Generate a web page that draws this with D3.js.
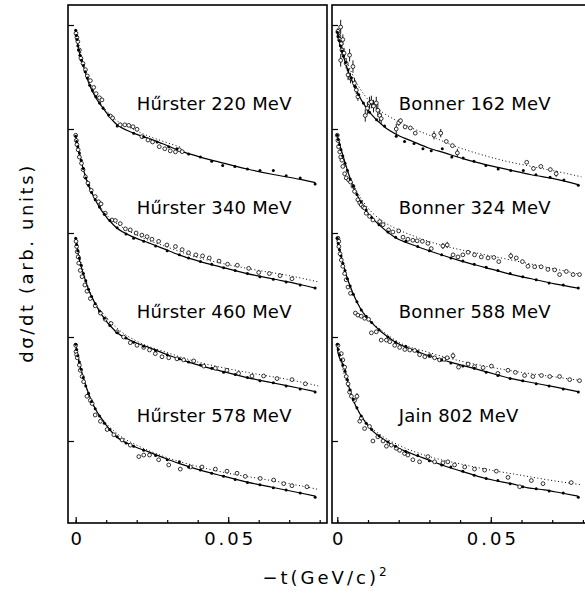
<!DOCTYPE html>
<html>
<head>
<meta charset="utf-8">
<script src="https://cdn.jsdelivr.net/npm/d3@7"></script>
<style>
  body { margin: 0; background: #fff; }
  text { font-family: "DejaVu Sans", sans-serif; fill: #000; }
</style>
</head>
<body>
<script>
// values are [-t, log10 offset inside one decade]; open points carry an error as 3rd item

// Hűrster 220 MeV
const solidL1 = [[0,.94],[.001,.76],[.0026,.60],[.0043,.44],[.0064,.31],[.0086,.215],[.013,.055],[.019,-.04],[.0239,-.09],[.0283,-.14],[.0338,-.205],[.0409,-.27],[.048,-.325],[.0562,-.385],[.0644,-.435],[.0737,-.485],[.0786,-.515]];
const fitL1 = [[0,.94],[.0021,.68],[.0043,.47],[.0064,.33],[.0097,.19],[.013,.09],[.0174,.02],[.0228,-.055],[.0283,-.115],[.0349,-.18]];
const calcL1 = [[0,.95],[.0002,.9],[.0004,.86],[.0007,.8],[.001,.76],[.0014,.71],[.0019,.66],[.0025,.61],[.0031,.55],[.0038,.49],[.0046,.42],[.0055,.37],[.0066,.31],[.0078,.25],[.009,.2],[.0108,.135],[.0136,.03],[.019,-.04],[.0223,-.075],[.0267,-.125],[.0305,-.17],[.0332,-.19],[.037,-.24],[.0409,-.27],[.0446,-.31],[.0482,-.35],[.0522,-.36],[.0563,-.385],[.0604,-.4],[.0648,-.4],[.069,-.45],[.0736,-.47],[.0785,-.53]];
const dataL1 = [[.0001,.92],[.0004,.88],[.0007,.84],[.0012,.76],[.0017,.68],[.0024,.63],[.0032,.57],[.0038,.51],[.0048,.465],[.0059,.4],[.0067,.34],[.0078,.3],[.0086,.28],[.0114,.125],[.0121,.106],[.0146,.04],[.0161,.04],[.0174,.035],[.0188,.022],[.0201,-.003],[.0217,-.074],[.0237,-.106],[.0252,-.125],[.0274,-.17],[.0292,-.19],[.031,-.21],[.0327,-.22],[.034,-.2],[.0349,-.218]];

// Hűrster 340 MeV
const solidL2 = [[0,.93],[.001,.79],[.0026,.6],[.0043,.45],[.0064,.32],[.0086,.21],[.013,.06],[.019,-.04],[.0239,-.095],[.0283,-.145],[.0338,-.21],[.0409,-.275],[.048,-.33],[.0562,-.39],[.0644,-.44],[.0737,-.495],[.0786,-.53]];
const fitL2 = [[0,.93],[.003,.58],[.006,.35],[.01,.18],[.015,.06],[.02,-.02],[.03,-.135],[.04,-.235],[.05,-.305],[.06,-.36],[.07,-.41],[.0795,-.47]];
const calcL2 = [[0,.93],[.0003,.88],[.0007,.83],[.0012,.77],[.0018,.7],[.0025,.62],[.0033,.53],[.0042,.46],[.0052,.39],[.0064,.32],[.0078,.25],[.0094,.18],[.0112,.12],[.0136,.05],[.0165,-.01],[.019,-.05],[.0223,-.08],[.0262,-.125],[.03,-.17],[.034,-.21],[.037,-.24],[.0409,-.275],[.0446,-.3],[.0485,-.335],[.0523,-.36],[.0563,-.39],[.0604,-.42],[.0648,-.445],[.069,-.47],[.0736,-.5],[.0785,-.53]];
const dataL2 = [[0,.94],[.0002,.89],[.0004,.85],[.0008,.8],[.0012,.73],[.0019,.67],[.0024,.61],[.0032,.54],[.004,.48],[.0051,.41],[.0064,.35],[.0075,.3],[.0083,.28],[.0097,.19],[.0119,.125],[.013,.12],[.0146,.09],[.0163,.04],[.0179,.03],[.0198,0],[.0217,-.02],[.0234,-.035],[.025,-.06],[.0272,-.08],[.0299,-.115],[.0327,-.13],[.0349,-.16],[.037,-.19],[.0394,-.21],[.0416,-.22],[.0438,-.24],[.047,-.27],[.0498,-.3],[.053,-.31],[.0567,-.34],[.06,-.38],[.0635,-.39],[.067,-.41],[.0709,-.44]];

// Hűrster 460 MeV
const solidL3 = [[0,.95],[.001,.77],[.0026,.6],[.0043,.45],[.0064,.32],[.0086,.21],[.013,.055],[.019,-.045],[.0239,-.1],[.0283,-.15],[.0338,-.21],[.0409,-.275],[.048,-.33],[.0562,-.39],[.0644,-.44],[.0737,-.495],[.0786,-.525]];
const fitL3 = [[0,.95],[.003,.58],[.006,.35],[.01,.19],[.015,.05],[.02,-.04],[.03,-.15],[.04,-.24],[.05,-.305],[.06,-.36],[.07,-.41],[.0795,-.47]];
const calcL3 = [[0,.95],[.0003,.89],[.0007,.83],[.0012,.76],[.0018,.69],[.0025,.61],[.0033,.54],[.0042,.46],[.0052,.39],[.0064,.32],[.0078,.25],[.0094,.18],[.0112,.11],[.0136,.04],[.0165,-.01],[.019,-.05],[.0223,-.09],[.0262,-.13],[.03,-.17],[.034,-.21],[.037,-.24],[.0409,-.27],[.0446,-.3],[.0485,-.34],[.0523,-.36],[.0563,-.39],[.0604,-.42],[.0648,-.44],[.069,-.47],[.0736,-.5],[.0785,-.53]];
const dataL3 = [[.0001,.92],[.0003,.87],[.0005,.82],[.0008,.77],[.001,.71],[.0015,.64],[.0021,.58],[.003,.5],[.0037,.44],[.0048,.37],[.0064,.3],[.0081,.23],[.0097,.17],[.0116,.13],[.0136,.05],[.0157,0],[.0179,-.055],[.0201,-.08],[.0223,-.1],[.0242,-.125],[.0261,-.16],[.0283,-.19],[.0305,-.2],[.0332,-.21],[.0354,-.22],[.0387,-.23],[.042,-.28],[.0458,-.3],[.0496,-.32],[.0534,-.35],[.0578,-.375],[.0616,-.375],[.066,-.4],[.0709,-.41],[.0753,-.45]];

// Hűrster 578 MeV
const solidL4 = [[0,.92],[.001,.77],[.0026,.6],[.0043,.45],[.0064,.31],[.0086,.21],[.013,.05],[.019,-.05],[.0239,-.105],[.0283,-.155],[.0338,-.215],[.0409,-.28],[.048,-.335],[.0562,-.395],[.0644,-.445],[.0737,-.5],[.0786,-.53]];
const fitL4 = [[0,.92],[.003,.56],[.006,.33],[.01,.17],[.015,.04],[.02,-.04],[.03,-.16],[.04,-.245],[.05,-.31],[.06,-.36],[.07,-.41],[.0795,-.465]];
const calcL4 = [[0,.93],[.0003,.88],[.0007,.82],[.0012,.76],[.0018,.69],[.0025,.61],[.0033,.53],[.0042,.46],[.0052,.38],[.0064,.31],[.0078,.24],[.0094,.17],[.0112,.11],[.0136,.04],[.0165,-.02],[.019,-.05],[.0223,-.09],[.0262,-.14],[.03,-.18],[.034,-.2],[.037,-.25],[.0409,-.28],[.0446,-.31],[.0485,-.34],[.0523,-.37],[.0563,-.4],[.0604,-.42],[.0648,-.45],[.069,-.47],[.0736,-.5],[.0785,-.54]];
const dataL4 = [[0,.92],[.0001,.86],[.0003,.83],[.0005,.8],[.0012,.73],[.0015,.68],[.0021,.62],[.0026,.57],[.0037,.43],[.0048,.39],[.0054,.36],[.0064,.25],[.0081,.19],[.0103,.11],[.0125,.06],[.0152,.01],[.0179,-.04],[.0207,-.15],[.0223,-.135],[.0242,-.135],[.0272,-.18],[.0305,-.23],[.0343,-.27],[.0376,-.25],[.0414,-.25],[.0458,-.27],[.0496,-.29],[.0529,-.31],[.0556,-.34],[.0605,-.36],[.0649,-.375],[.0682,-.41],[.0709,-.43],[.0758,-.44]];

// Bonner 162 MeV
const solidR1 = [[0,.92],[.0008,.82],[.0024,.66],[.004,.52],[.0056,.41],[.0078,.28],[.0111,.14],[.0154,.02],[.0198,-.06],[.0246,-.12],[.0295,-.18],[.035,-.23],[.0415,-.29],[.048,-.34],[.0556,-.39],[.0632,-.44],[.0708,-.48],[.0784,-.535]];
const fitR1 = [[0,.94],[.003,.66],[.006,.46],[.009,.32],[.013,.2],[.02,.07],[.025,0],[.03,-.06],[.037,-.15],[.045,-.23],[.055,-.31],[.065,-.37],[.075,-.43],[.0795,-.46]];
const calcR1 = [[0,.93],[.0003,.89],[.0006,.85],[.001,.8],[.0015,.75],[.002,.7],[.0027,.64],[.0035,.57],[.0045,.49],[.0057,.41],[.007,.33],[.0085,.25],[.0105,.16],[.0128,.09],[.0154,.03],[.0192,-.07],[.0219,-.12],[.025,-.14],[.0279,-.19],[.0306,-.21],[.0342,-.19],[.0373,-.27],[.041,-.28],[.0445,-.31],[.0484,-.35],[.0524,-.385],[.0565,-.4],[.0606,-.4],[.0647,-.44],[.0693,-.465],[.0738,-.49],[.0785,-.54]];
const dataR1 = [[.0002,.94,.03],[.0005,.89,.04],[.0008,.86,.05],[.0011,.98,.07],[.0013,.82,.05],[.0015,.76,.05],[.0018,.86,.05],[.0011,.66,.06],[.0022,.73,.05],[.0029,.63,.05],[.004,.71,.06],[.0035,.52,.05],[.0043,.49,.05],[.0051,.6,.06],[.0056,.44,.05],[.0062,.375,.04],[.0067,.31,.04],[.0091,.13,.06],[.0098,.2,.06],[.0105,.25,.06],[.0111,.26,.06],[.0118,.22,.06],[.0127,.25,.06],[.0132,.18,.06],[.0138,.13,.06],[.0143,.1,.05],[.0192,0,.05],[.02,.06,.03],[.0206,.08,.02],[.0221,.02],[.0238,.01],[.0254,-.04],[.0315,-.06,.04],[.0337,-.04,.04],[.0355,-.12],[.0375,-.16],[.0391,-.23,.04],[.0617,-.32],[.0639,-.38,.02],[.0663,-.36],[.0694,-.39],[.0713,-.43,.03]];

// Bonner 324 MeV
const solidR2 = [[0,.93],[.0013,.8],[.0029,.64],[.0051,.45],[.0073,.32],[.01,.19],[.0132,.09],[.0187,-.04],[.0252,-.12],[.0328,-.2],[.0404,-.27],[.048,-.33],[.0556,-.39],[.0632,-.44],[.0708,-.49],[.0784,-.53]];
const fitR2 = [[0,.94],[.003,.62],[.006,.42],[.01,.24],[.015,.11],[.02,.03],[.025,-.03],[.033,-.11],[.04,-.16],[.05,-.22],[.06,-.28],[.07,-.34],[.0795,-.4]];
const calcR2 = [[0,.94],[.0003,.9],[.0007,.85],[.0012,.8],[.0018,.74],[.0025,.67],[.0033,.6],[.0042,.52],[.0052,.45],[.0064,.37],[.0078,.3],[.0094,.22],[.0112,.15],[.0136,.08],[.0165,.01],[.019,-.04],[.0223,-.08],[.0262,-.13],[.03,-.17],[.034,-.21],[.037,-.24],[.0409,-.27],[.0446,-.3],[.0485,-.33],[.0523,-.36],[.0563,-.39],[.0604,-.42],[.0648,-.45],[.069,-.48],[.0736,-.5],[.0785,-.53]];
const dataR2 = [[0,.94],[.0002,.89],[.0004,.83],[.0008,.78],[.0011,.73],[.0015,.7],[.0018,.64],[.0024,.57],[.0029,.53],[.0037,.51],[.0043,.49],[.0051,.45],[.0056,.4],[.0067,.32],[.0073,.29],[.0078,.27],[.0084,.25],[.0089,.24],[.0094,.19],[.0105,.16],[.0116,.125],[.0138,.11],[.0149,.08],[.0167,.03],[.0181,.01],[.02,.02],[.0214,-.04],[.023,-.06],[.0246,-.07],[.026,-.075],[.0277,-.08],[.0295,-.1],[.0306,-.15],[.0344,-.125,.03],[.0358,-.115,.03],[.0377,-.21],[.0393,-.23],[.0409,-.21],[.0426,-.185],[.0447,-.21],[.0469,-.23],[.0491,-.24],[.051,-.235],[.0526,-.275],[.0565,-.22,.03],[.0583,-.24],[.0603,-.275],[.0621,-.32],[.0643,-.325],[.0664,-.325],[.0686,-.35],[.0708,-.355],[.0724,-.4],[.0746,-.37],[.0768,-.4],[.0789,-.4]];

// Bonner 588 MeV
const solidR3 = [[0,.95],[.0013,.77],[.0029,.6],[.0051,.42],[.0078,.26],[.0111,.14],[.0143,.05],[.0187,-.045],[.0252,-.13],[.0317,-.2],[.0404,-.27],[.048,-.33],[.0567,-.4],[.0637,-.44],[.0708,-.48],[.0784,-.525]];
const fitR3 = [[0,.95],[.003,.58],[.006,.36],[.01,.18],[.015,.05],[.02,-.05],[.03,-.15],[.04,-.23],[.05,-.29],[.06,-.34],[.07,-.38],[.0795,-.42]];
const calcR3 = [[0,.95],[.0003,.9],[.0007,.84],[.0012,.78],[.0018,.71],[.0025,.64],[.0033,.56],[.0042,.49],[.0052,.41],[.0064,.34],[.0078,.26],[.0094,.2],[.0112,.14],[.0136,.07],[.0165,0],[.019,-.05],[.0223,-.09],[.0262,-.14],[.03,-.18],[.034,-.22],[.037,-.25],[.0409,-.28],[.0446,-.3],[.0485,-.34],[.0523,-.37],[.0563,-.4],[.0604,-.42],[.0648,-.45],[.069,-.47],[.0736,-.5],[.0785,-.53]];
const dataR3 = [[.0002,.95],[.0005,.92],[.0005,.87],[.0009,.8],[.0013,.74],[.0018,.68],[.0024,.61],[.0029,.55],[.0035,.48],[.0043,.42],[.0059,.23],[.0067,.21],[.0078,.2],[.0089,.18],[.0102,.17],[.0111,.04],[.0127,.05],[.0143,-.03],[.016,-.03],[.0171,-.045],[.0187,-.08],[.0203,-.1],[.022,-.12],[.0236,-.125],[.0252,-.13],[.0268,-.17],[.0285,-.19],[.0301,-.18],[.0317,-.2],[.0333,-.22],[.0347,-.215],[.0358,-.2],[.0377,-.18,.03],[.0395,-.29],[.0426,-.26],[.0447,-.285],[.0475,-.295],[.0502,-.28],[.0523,-.35],[.0556,-.32],[.058,-.34],[.061,-.37],[.0637,-.38],[.0665,-.37],[.0692,-.38],[.0724,-.38],[.0757,-.41],[.0789,-.42]];

// Jain 802 MeV
const solidR4 = [[0,.92],[.0002,.85],[.0024,.7],[.0038,.52],[.0051,.4],[.0078,.24],[.0111,.11],[.0154,.01],[.0187,-.05],[.0241,-.12],[.0295,-.18],[.035,-.24],[.0404,-.29],[.0458,-.34],[.0513,-.38],[.0567,-.41],[.0621,-.45],[.0675,-.47],[.073,-.5],[.0784,-.53]];
const fitR4 = [[0,.92],[.003,.56],[.006,.33],[.01,.16],[.015,.04],[.02,-.04],[.03,-.15],[.04,-.22],[.05,-.28],[.06,-.33],[.07,-.38],[.0795,-.42]];
const calcR4 = [[0,.93],[.0003,.88],[.0007,.83],[.0012,.78],[.0018,.73],[.0025,.67],[.0033,.59],[.0042,.49],[.0052,.4],[.0064,.32],[.0078,.24],[.0094,.17],[.0112,.11],[.0136,.05],[.0165,-.01],[.019,-.05],[.0223,-.1],[.0262,-.14],[.03,-.19],[.034,-.23],[.037,-.25],[.0409,-.29],[.0446,-.33],[.0485,-.36],[.0523,-.38],[.0563,-.41],[.0604,-.44],[.0648,-.46],[.069,-.48],[.0736,-.5],[.0785,-.54]];
const dataR4 = [[.0002,.92],[.0013,.84],[.0018,.78],[.0024,.71],[.0029,.62],[.0035,.55],[.004,.47],[.0046,.43],[.0056,.39,.02],[.0064,.43,.03],[.0073,.19],[.0078,.22],[.0089,.12],[.0105,.14],[.0116,0],[.0132,.04],[.0149,0],[.016,-.05],[.0176,-.04],[.0192,-.07],[.0203,-.09],[.0219,-.12],[.023,-.135],[.0246,-.18],[.0268,-.2],[.0295,-.15],[.0317,-.2],[.0344,-.21],[.036,-.2],[.0382,-.23],[.0415,-.25],[.0447,-.27],[.048,-.28],[.0518,-.29],[.0556,-.35],[.0594,-.44],[.0632,-.38],[.067,-.41],[.0762,-.4]];

const labelsLeft = ['H\u0171rster 220 MeV', 'H\u0171rster 340 MeV', 'H\u0171rster 460 MeV', 'H\u0171rster 578 MeV'];
const labelsRight = ['Bonner 162 MeV', 'Bonner 324 MeV', 'Bonner 588 MeV', 'Jain 802 MeV'];
const decadeOffsets = [3, 2, 1, 0];
const xMinorTicks = [0, .01, .02, .03, .04, .05, .06, .07, .08];
const xMajorTicks = [0, .05];
const xTickLabels = ['0', '0.05'];
const yTicks = [1, 10, 100, 1000, 10000];

const width = 585, height = 593;
const plotTop = 5, plotBottom = 523;

const panels = [
  {x0: 68, x1: 327, range: [75.7, 319.7], labels: labelsLeft,
   sets: [[solidL1, fitL1, calcL1, dataL1], [solidL2, fitL2, calcL2, dataL2], [solidL3, fitL3, calcL3, dataL3], [solidL4, fitL4, calcL4, dataL4]]},
  {x0: 332, x1: 592, range: [337.3, 582.9], labels: labelsRight,
   sets: [[solidR1, fitR1, calcR1, dataR1], [solidR2, fitR2, calcR2, dataR2], [solidR3, fitR3, calcR3, dataR3], [solidR4, fitR4, calcR4, dataR4]]}
];

const svg = d3.select('body').append('svg')
    .attr('width', width)
    .attr('height', height);

const y = d3.scaleLog()
    .domain([10000, 1])
    .range([25, 441]);

panels.forEach(p => {
  const x = d3.scaleLinear().domain([0, .08]).range(p.range);
  const g = svg.append('g');

  p.sets.forEach((s, i) => {
    const off = decadeOffsets[i];
    const yv = d => y(Math.pow(10, off + d[1]));
    const line = d3.line().x(d => x(d[0])).y(yv).curve(d3.curveMonotoneX);

    g.append('path')
        .attr('d', line(s[1]))
        .attr('fill', 'none')
        .attr('stroke', '#000')
        .attr('stroke-width', 1)
        .attr('stroke-dasharray', '1,2.5');

    g.append('path')
        .attr('d', line(s[0]))
        .attr('fill', 'none')
        .attr('stroke', '#000')
        .attr('stroke-width', 1.2);

    // error bars of the measured points
    g.selectAll(null)
        .data(s[3].filter(d => d[2]))
      .enter().append('line')
        .attr('x1', d => x(d[0]))
        .attr('x2', d => x(d[0]))
        .attr('y1', d => y(Math.pow(10, off + d[1] + d[2])))
        .attr('y2', d => y(Math.pow(10, off + d[1] - d[2])))
        .attr('stroke', '#000')
        .attr('stroke-width', 0.9);

    g.selectAll(null)
        .data(s[3])
      .enter().append('circle')
        .attr('cx', d => x(d[0]))
        .attr('cy', yv)
        .attr('r', 1.9)
        .attr('fill', '#fff')
        .attr('stroke', '#000')
        .attr('stroke-width', 0.8);

    g.selectAll(null)
        .data(s[2])
      .enter().append('circle')
        .attr('cx', d => x(d[0]))
        .attr('cy', yv)
        .attr('r', 1.5)
        .attr('fill', '#000');

    g.append('text')
        .attr('x', x(.02))
        .attr('y', y(Math.pow(10, off + .18)))
        .attr('font-size', 18)
        .attr('letter-spacing', 0.2)
        .text(p.labels[i]);
  });

  g.append('rect')
      .attr('x', p.x0)
      .attr('y', plotTop)
      .attr('width', p.x1 - p.x0)
      .attr('height', plotBottom - plotTop)
      .attr('fill', 'none')
      .attr('stroke', '#000')
      .attr('stroke-width', 1.6);

  g.append('g')
      .attr('transform', 'translate(0,' + plotBottom + ')')
      .call(d3.axisBottom(x).tickValues(xMinorTicks).tickSize(-3).tickFormat(''))
      .call(a => a.select('.domain').remove())
      .selectAll('line').attr('stroke-width', 1.2);

  const major = g.append('g')
      .attr('transform', 'translate(0,' + plotBottom + ')')
      .call(d3.axisBottom(x).tickValues(xMajorTicks).tickSize(-6).tickPadding(9)
        .tickFormat((d, i) => xTickLabels[i]));
  major.select('.domain').remove();
  major.selectAll('line').attr('stroke-width', 1.2);
  major.selectAll('text')
      .attr('font-family', '"DejaVu Sans", sans-serif')
      .attr('font-size', 18)
      .attr('letter-spacing', 3)
      .attr('dx', 1.5);

  g.append('g')
      .attr('transform', 'translate(' + p.x0 + ',0)')
      .call(d3.axisRight(y).tickValues(yTicks).tickSize(6).tickFormat(''))
      .call(a => a.select('.domain').remove())
      .selectAll('line').attr('stroke-width', 1.2);
});

svg.append('text')
    .attr('x', 326)
    .attr('y', 584)
    .attr('text-anchor', 'middle')
    .attr('font-size', 18)
    .attr('letter-spacing', 3)
    .text('\u2212t(GeV/c)')
  .append('tspan')
    .attr('dy', -8)
    .attr('font-size', 12)
    .text('2');

svg.append('text')
    .attr('transform', 'translate(33,263) rotate(-90)')
    .attr('text-anchor', 'middle')
    .attr('font-size', 18)
    .attr('letter-spacing', 2.6)
    .text('d\u03c3/dt (arb. units)');
</script>
</body>
</html>
